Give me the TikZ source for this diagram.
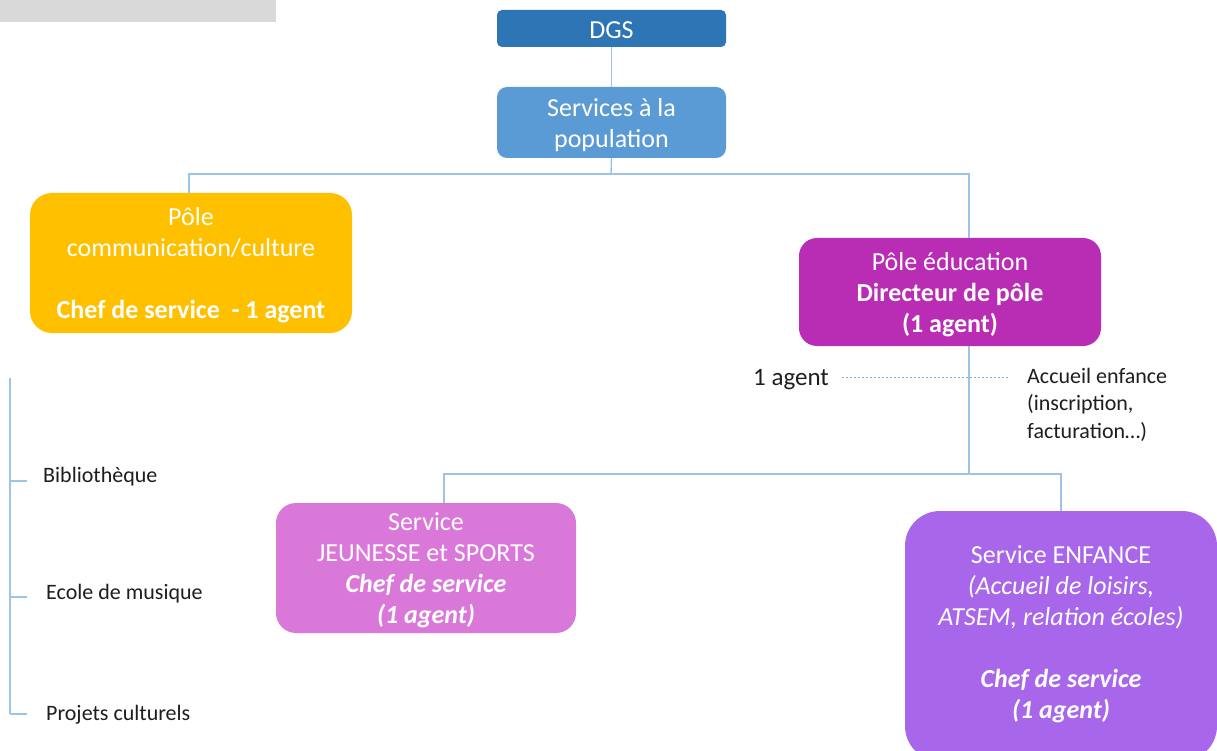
\documentclass[tikz,border=0pt]{standalone}
\usepackage{fontspec}
\setmainfont{Carlito}
\definecolor{headgray}{RGB}{217,217,217}
\definecolor{dgsblue}{RGB}{46,117,182}
\definecolor{servblue}{RGB}{91,155,213}
\definecolor{comyellow}{RGB}{255,192,0}
\definecolor{edumagenta}{RGB}{185,45,180}
\definecolor{jeunpink}{RGB}{218,120,218}
\definecolor{enfviolet}{RGB}{168,102,234}
\definecolor{linkblue}{RGB}{157,195,230}
\definecolor{dotblue}{RGB}{120,170,225}
\definecolor{labelgray}{RGB}{30,30,30}
\begin{document}
\begin{tikzpicture}[x=1pt,y=-1pt,
  box/.style={draw=none, inner sep=0pt},
  boxtext/.style={text=white, align=center, inner sep=0pt,
    font=\fontsize{26}{31}\selectfont},
  conn/.style={draw=linkblue, line width=1.4pt},
  lbl/.style={anchor=west, inner sep=0pt, text=labelgray,
    font=\fontsize{22}{27.5}\selectfont, align=left}]
\useasboundingbox (0,0) rectangle (1217,751);
\fill[white] (0,0) rectangle (1217,751);
% header strip
\fill[headgray] (0,0) rectangle (276,22);

% boxes
\node[box, fill=dgsblue, rounded corners=5pt,
  minimum width=229pt, minimum height=37pt] (dgs) at (611.5,28.5) {};
\node[box, fill=servblue, rounded corners=10pt,
  minimum width=229pt, minimum height=71pt] (serv) at (611.5,122.5) {};
\node[box, fill=comyellow, rounded corners=22pt,
  minimum width=322pt, minimum height=140pt] (pcom) at (191,263) {};
\node[box, fill=edumagenta, rounded corners=18pt,
  minimum width=302pt, minimum height=108pt] (pedu) at (950,292) {};
\node[box, fill=jeunpink, rounded corners=20pt,
  minimum width=300pt, minimum height=130pt] (jeun) at (426,568) {};
\node[box, fill=enfviolet, rounded corners=35pt,
  minimum width=312pt, minimum height=250pt] (enf) at (1061,636) {};

% box texts
\node[boxtext] (dgs-t) at ([yshift=-2pt]dgs.center) {DGS};
\node[boxtext] (serv-t) at ([yshift=-3pt]serv.center) {Services à la\\population};
\node[boxtext] (pcom-t) at ([yshift=-2.5pt]pcom.center)
  {Pôle\\communication/culture\\[31pt]\textbf{Chef de service\ \ - 1 agent}};
\node[boxtext] (pedu-t) at ([yshift=-2.5pt]pedu.center)
  {Pôle éducation\\\textbf{Directeur de pôle}\\\textbf{(1 agent)}};
\node[boxtext] (jeun-t) at ([yshift=-2.5pt]jeun.center)
  {Service\\JEUNESSE et SPORTS\\\textbf{\itshape Chef de service}\\\textbf{\itshape (1 agent)}};
\node[boxtext] (enf-t) at ([yshift=2pt]enf.center)
  {Service ENFANCE\\\itshape (Accueil de loisirs,\\\itshape ATSEM, relation écoles)\\[31pt]\textbf{\itshape Chef de service}\\\textbf{\itshape (1 agent)}};

% junction points
\coordinate (busA) at (611,174);
\coordinate (busB) at (969,474);
\coordinate (dropJ) at (444,474);

% connectors
\draw[conn] (dgs.south) -- (serv.north);
\draw[conn] (serv.south) -- (busA);
\draw[conn] (pcom.north -| 189,0) |- (busA) -| (pedu.north -| busB);
\draw[conn] (pedu.south -| busB) -- (busB);
\draw[conn] (jeun.north -| dropJ) -- (dropJ) -- (busB) -| (enf.north);

% side note
\node[lbl, font=\fontsize{25}{27}\selectfont] (agent) at (753,380) {1 agent};
\node[lbl, anchor=north west] (acc) at (1027,368)
  {Accueil enfance\\(inscription,\\facturation…)};
\path (agent.east) ++(13,-3) coordinate (dotL);
\path (dotL -| acc.west) ++(-19,0) coordinate (dotR);
\draw[draw=dotblue, line width=0.8pt, dash pattern=on 2pt off 2pt] (dotL) -- (dotR);

% cultural services list
\coordinate (lt) at (10,378);
\coordinate (l1) at (10,481);
\coordinate (l2) at (10,597);
\coordinate (l3) at (10,714);
\draw[conn] (lt) -- (l3);
\draw[conn] (l1) -- ++(17,0);
\draw[conn] (l2) -- ++(17,0);
\draw[conn] (l3) -- ++(17,0);
\node[lbl] (bib) at (43,477) {Bibliothèque};
\node[lbl] (ecole) at (46,594) {Ecole de musique};
\node[lbl] (proj) at (46,715) {Projets culturels};
\end{tikzpicture}
\end{document}
